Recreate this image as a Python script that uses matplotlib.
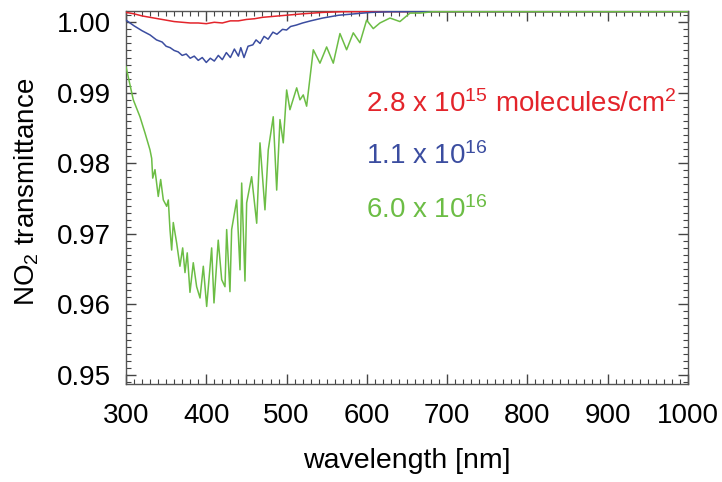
import numpy as np
import matplotlib
matplotlib.use("Agg")
import matplotlib.pyplot as plt
from matplotlib.ticker import MultipleLocator

plt.rcParams['font.family'] = ['Liberation Sans', 'DejaVu Sans']
plt.rcParams['mathtext.default'] = 'regular'

# NO2 transmittance, three column amounts
wl_red = [300, 310, 320, 330, 340, 350, 360, 370, 380, 390, 400, 410, 420, 430,
          440, 450, 460, 470, 480, 500, 520, 545, 570, 1000]
tr_red = [1.0014, 1.0012, 1.0009, 1.0007, 1.0005, 1.0003, 1.0001, 1.0000, 0.9999,
          0.9999, 0.9998, 1.0000, 0.9999, 1.0002, 1.0002, 1.0004, 1.0005, 1.0007,
          1.0008, 1.0010, 1.0012, 1.0014, 1.0015, 1.0015]

wl_blue = [300, 310, 320, 330, 338, 345, 350, 355, 360, 365, 370, 375, 380, 385,
           390, 395, 400, 405, 410, 415, 420, 425, 430, 435, 440, 443, 447, 452,
           458, 462, 467, 472, 477, 483, 488, 495, 500, 505, 512, 520, 530, 545,
           565, 585, 605, 630, 1000]
tr_blue = [1.0003, 0.9995, 0.9988, 0.9982, 0.9975, 0.9972, 0.9966, 0.9964, 0.9960,
           0.9958, 0.9953, 0.9955, 0.9949, 0.9952, 0.9946, 0.9950, 0.9943, 0.9949,
           0.9945, 0.9953, 0.9947, 0.9957, 0.9950, 0.9962, 0.9952, 0.9964, 0.9950,
           0.9966, 0.9968, 0.9975, 0.9970, 0.9980, 0.9976, 0.9986, 0.9983, 0.9990,
           0.9989, 0.9994, 0.9996, 0.9999, 1.0002, 1.0006, 1.0010, 1.0012, 1.0014,
           1.0015, 1.0015]

wl_green = [300, 309.1, 317.4, 323.7, 329.9, 332.0, 333.3, 336.1, 340.2, 343.2,
            346.5, 350.7, 352.7, 354.8, 356.9, 358.9, 363.1, 367.2, 370.6, 373.5,
            376.3, 379.7, 383.8, 388.0, 392.2, 396.3, 400.5, 406.7, 409.6, 414.9,
            419.2, 423.3, 425.4, 429.5, 431.6, 437.9, 442.0, 444.1, 448.2, 450.3,
            456.5, 462.8, 466.9, 473.1, 477.2, 483.4, 487.7, 491.8, 495.9, 500.1,
            504.2, 512.6, 516.7, 520.8, 525.0, 533.3, 541.6, 549.9, 558.2, 566.5,
            574.8, 583.1, 591.4, 599.7, 608.0, 616.3, 628.8, 641.2, 653.7, 666.1,
            682.3, 1000]
tr_green = [0.9937, 0.9890, 0.9866, 0.9843, 0.9819, 0.9807, 0.9779, 0.9791, 0.9753,
            0.9777, 0.9748, 0.9739, 0.9748, 0.9706, 0.9677, 0.9716, 0.9687, 0.9654,
            0.9680, 0.9645, 0.9673, 0.9617, 0.9659, 0.9625, 0.9609, 0.9654, 0.9597,
            0.9680, 0.9602, 0.9691, 0.9635, 0.9625, 0.9706, 0.9618, 0.9706, 0.9748,
            0.9649, 0.9772, 0.9633, 0.9744, 0.9781, 0.9715, 0.9829, 0.9734, 0.9819,
            0.9866, 0.9762, 0.9862, 0.9829, 0.9904, 0.9876, 0.9907, 0.9890, 0.9897,
            0.9881, 0.9961, 0.9942, 0.9965, 0.9942, 0.9984, 0.9961, 0.9985, 0.9971,
            1.0003, 0.9991, 0.9999, 1.0006, 1.0001, 1.0013, 1.0013, 1.0015, 1.0015]

labels = ['2.8 x 10$^{15}$ molecules/cm$^2$', '1.1 x 10$^{16}$', '6.0 x 10$^{16}$']
colors = ['#e3242b', '#3b4da0', '#6cbd45']

fig = plt.figure(figsize=(7.22, 4.82), dpi=100)
ax = fig.add_axes([0.1745, 0.2033, 0.7784, 0.7739])

ax.plot(wl_red, tr_red, color=colors[0], lw=1.1, zorder=3)
ax.plot(wl_blue, tr_blue, color=colors[1], lw=1.1, zorder=3)
ax.plot(wl_green, tr_green, color=colors[2], lw=1.1, zorder=3)

ax.set_xlim(300, 1000)
ax.set_ylim(0.9487, 1.0016)
ax.xaxis.set_major_locator(MultipleLocator(100))
ax.xaxis.set_minor_locator(MultipleLocator(10))
ax.yaxis.set_major_locator(MultipleLocator(0.01))
ax.yaxis.set_minor_locator(MultipleLocator(0.001))
ax.yaxis.set_major_formatter(plt.FormatStrFormatter('%.2f'))

ax.tick_params(which='both', direction='in', top=True, right=True,
               color='#444444', labelsize=20)
ax.tick_params(which='major', length=7, width=1)
ax.tick_params(which='minor', length=3.5, width=0.8)
ax.tick_params(axis='x', pad=14)
ax.tick_params(axis='y', pad=11)
for s in ax.spines.values():
    s.set_color('#555555')
    s.set_linewidth(1)

ax.set_xlabel('wavelength [nm]', fontsize=20.5, labelpad=13)
fig.text(27 / 722, 1 - 192 / 482, 'NO$_2$ transmittance', fontsize=20,
         rotation=90, ha='center', va='center')

ys = [0.730, 0.589, 0.446]
for lab, c, y in zip(labels, colors, ys):
    ax.text(0.427, y, lab, color=c, fontsize=20, transform=ax.transAxes,
            ha='left', va='baseline')

fig.savefig('out.png', dpi=100)
